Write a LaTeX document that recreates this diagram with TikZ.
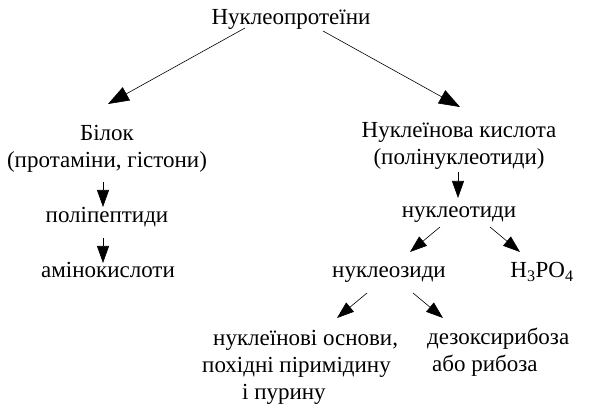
\documentclass[tikz,border=0pt]{standalone}
\usepackage{fontspec}
\setmainfont{Liberation Serif}
\usetikzlibrary{arrows.meta,calc}

\begin{document}
\begin{tikzpicture}[
    x=1pt, y=-1pt,
    every node/.style={font=\fontsize{23}{27}\selectfont, inner sep=0pt, anchor=base},
    bigarrow/.style={-{Triangle[length=21pt,width=15pt]}, line width=0.6pt},
    smallarrow/.style={-{Triangle[length=17pt,width=12pt]}, line width=0.6pt}
]
    \useasboundingbox (0,0) rectangle (595,419);

    % multi-line nodes sit on the baseline of their last line
    \node (title) at (291,25) {Нуклеопротеїни};
    \node[align=center] (bilok) at (107,168) {Білок\\(протаміни, гістони)};
    \node[align=center] (nk) at (459,165) {Нуклеїнова кислота\\(полінуклеотиди)};
    \node (pp) at (107,223) {поліпептиди};
    \node (ak) at (108,278) {амінокислоти};
    \node (nt) at (459,218) {нуклеотиди};
    \node (nz) at (389,278) {нуклеозиди};
    \node (hpo) at (542,278) {H\textsubscript{3}PO\textsubscript{4}};
    \node[align=left, anchor=base west] (no) at (202,400)
        {\hspace*{11pt}нуклеїнові основи,\\похідні піримідину\\\hspace*{40pt}і пурину};
    \node[align=left, anchor=base west] (dz) at (427,372)
        {дезоксирибоза\\\hspace*{5pt}або рибоза};

    \draw[bigarrow] ($(title.base)+(-46,3)$) -- ($(bilok.base)+(1,-64)$);
    \draw[bigarrow] ($(title.base)+(32,6)$) -- ($(nk.base)+(1,-58)$);

    \draw[smallarrow] ($(bilok.base)+(-4,14)$) -- ($(pp.base)+(-4,-16)$);
    \draw[smallarrow] ($(pp.base)+(-4,15)$) -- ($(ak.base)+(-5,-15)$);

    \draw[smallarrow] ($(nk.base)+(-1,7)$) -- ($(nt.base)+(-1,-20)$);
    \draw[smallarrow] ($(nt.base)+(-19,9)$) -- ($(nz.base)+(21,-26)$);
    \draw[smallarrow] ($(nt.base)+(31,9)$) -- ($(hpo.base)+(-22,-26)$);
    \draw[smallarrow] ($(nz.base)+(-22,15)$) -- ($(no.base west)+(135,-82)$);
    \draw[smallarrow] ($(nz.base)+(24,15)$) -- ($(dz.base west)+(16,-54)$);
\end{tikzpicture}
\end{document}
